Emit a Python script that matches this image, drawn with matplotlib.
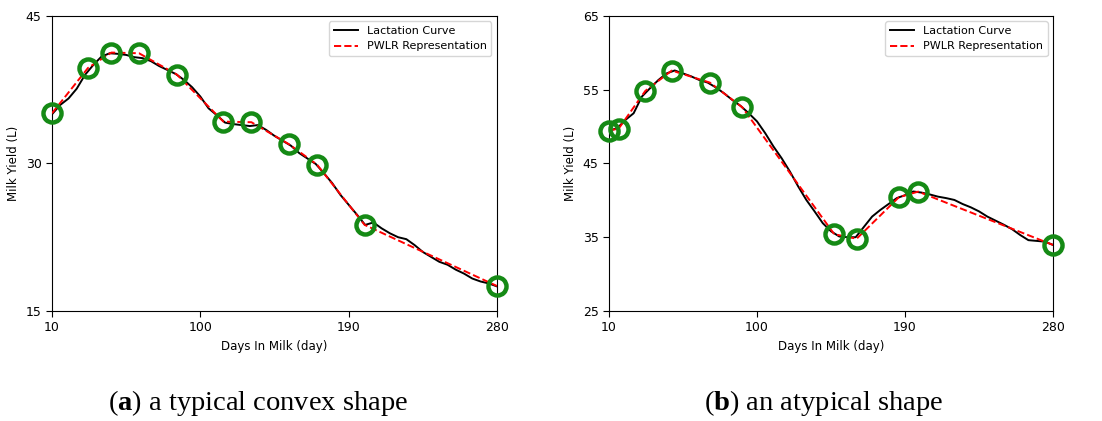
import matplotlib
matplotlib.use("Agg")
import matplotlib.pyplot as plt

plt.rcParams['mathtext.fontset'] = 'custom'
plt.rcParams['mathtext.rm'] = 'Liberation Serif'
plt.rcParams['mathtext.bf'] = 'Liberation Serif:bold'

# ---------------- data ----------------
days = [10, 15, 20, 25, 30, 35, 40, 45, 50, 55, 60, 65, 70, 75, 80, 85, 90, 95,
        100, 105, 110, 115, 120, 125, 130, 135, 140, 145, 150, 155, 160, 165, 170,
        175, 180, 185, 190, 195, 200, 205, 210, 215, 220, 225, 230, 235, 240, 245,
        250, 255, 260, 265, 270, 275, 280]

curve_a = [35.0, 35.95, 36.6, 37.6, 39.0, 40.0, 40.86, 41.2, 41.14, 41.03, 40.8,
           40.7, 40.4, 39.9, 39.5, 39.1, 38.5, 37.75, 36.8, 35.6, 34.9, 34.15, 34.0,
           33.9, 33.8, 33.9, 33.4, 32.8, 32.3, 31.8, 31.05, 30.5, 29.95, 29.0, 28.0,
           26.8, 25.8, 24.8, 23.75, 24.0, 23.4, 22.9, 22.5, 22.3, 21.7, 21.0, 20.5,
           20.0, 19.7, 19.2, 18.8, 18.3, 18.0, 17.8, 17.5]

curve_b = [49.45, 49.77, 50.9, 51.8, 54.06, 55.2, 56.3, 57.2, 57.6, 57.2, 56.8,
           56.3, 55.96, 55.3, 54.5, 53.6, 52.8, 51.8, 50.7, 49.1, 47.3, 45.7, 43.9,
           41.9, 40.05, 38.5, 36.9, 35.8, 35.1, 35.0, 35.0, 36.4, 37.8, 38.7, 39.5,
           40.3, 40.7, 41.2, 41.05, 40.8, 40.5, 40.3, 40.05, 39.5, 39.05, 38.5, 37.8,
           37.25, 36.7, 36.1, 35.3, 34.6, 34.5, 34.4, 33.95]

bp_days_a = [10, 31.8, 46, 62.8, 85.8, 114, 131, 153.8, 170.8, 199.7, 280]
bp_vals_a = [35.1, 39.7, 41.27, 41.2, 39.03, 34.25, 34.19, 31.95, 29.88, 23.75, 17.54]

bp_days_b = [10, 15.9, 32.1, 48.2, 71.3, 91, 147, 160.6, 186.2, 198, 280]
bp_vals_b = [49.45, 49.72, 54.83, 57.59, 55.96, 52.62, 35.4, 34.8, 40.41, 41.18, 33.95]

xticks = [10, 100, 190, 280]
yticks_a = [15, 30, 45]
yticks_b = [25, 35, 45, 55, 65]

captions = [r"($\mathbf{a}$) a typical convex shape", r"($\mathbf{b}$) an atypical shape"]

# ---------------- figure ----------------
fig = plt.figure(figsize=(11.02, 4.21), dpi=100)
ax1 = fig.add_axes([0.0472, 0.2613, 0.4038, 0.701])
ax2 = fig.add_axes([0.5526, 0.2613, 0.4030, 0.701])

panels = [
    (ax1, curve_a, bp_days_a, bp_vals_a, yticks_a),
    (ax2, curve_b, bp_days_b, bp_vals_b, yticks_b),
]

for ax, curve, bx, by, yt in panels:
    ax.plot(days, curve, color='black', lw=1.4, label='Lactation Curve', zorder=2)
    ax.plot(bx, by, color='red', lw=1.4, ls='--', label='PWLR Representation', zorder=3)
    ax.plot(bx, by, ls='none', marker='o', ms=13, mfc='none', mec='#158a15', mew=3.2,
            zorder=4, clip_on=False)
    ax.set_xlim(10, 280)
    ax.set_ylim(yt[0], yt[-1])
    ax.set_xticks(xticks)
    ax.set_yticks(yt)
    ax.tick_params(labelsize=9, length=4)
    ax.set_xlabel('Days In Milk (day)', fontsize=8.5)
    ax.set_ylabel('Milk Yield (L)', fontsize=8.5)
    ax.legend(loc='upper right', fontsize=8, handlelength=2.2, frameon=True)

fig.text(258 / 1102, 1 - 410 / 421, captions[0], fontsize=20.5, family='Liberation Serif',
         ha='center', va='baseline')
fig.text(824 / 1102, 1 - 410 / 421, captions[1], fontsize=20.5, family='Liberation Serif',
         ha='center', va='baseline')

fig.savefig('out.png', dpi=100)
